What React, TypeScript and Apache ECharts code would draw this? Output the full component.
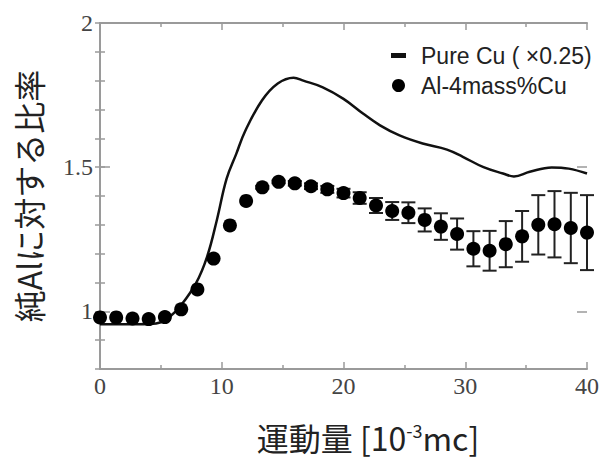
import React, { useEffect, useRef } from 'react';
import * as echarts from 'echarts';

const xTickLabels = [0, 10, 20, 30, 40];
const yTickLabels = [1, 1.5, 2];
const legendNames = ['Pure Cu ( ×0.25)', 'Al-4mass%Cu'];
const xTitleMain = '運動量 [10';
const xTitleSup = '-3';
const xTitleEnd = 'mc]';
const yTitle = '純Alに対する比率';

const pureCuX = [0, 2, 4, 5, 5.8, 6.6, 7.9, 8.8, 9.6, 10.4, 11.2, 11.9, 13.3, 14.6, 15.9, 16.7, 18.3, 20, 21.6, 23, 24.6, 26.5, 28.5, 29.8, 31.5, 33.1, 34, 35.3, 37.1, 38.5, 40];
const pureCuY = [0.955, 0.955, 0.956, 0.962, 0.984, 1.018, 1.099, 1.19, 1.317, 1.46, 1.547, 1.623, 1.731, 1.79, 1.81, 1.8, 1.777, 1.737, 1.686, 1.645, 1.61, 1.582, 1.561, 1.536, 1.5, 1.478, 1.468, 1.484, 1.499, 1.495, 1.478];

const alX = [0, 1.33, 2.67, 4, 5.33, 6.67, 8, 9.33, 10.67, 12, 13.33, 14.67, 16, 17.33, 18.67, 20, 21.33, 22.67, 24, 25.33, 26.67, 28, 29.33, 30.67, 32, 33.33, 34.67, 36, 37.33, 38.67, 40];
const alY = [0.979, 0.979, 0.975, 0.973, 0.98, 1.007, 1.076, 1.183, 1.298, 1.383, 1.43, 1.449, 1.444, 1.434, 1.423, 1.41, 1.393, 1.367, 1.348, 1.342, 1.317, 1.294, 1.268, 1.217, 1.21, 1.233, 1.26, 1.3, 1.302, 1.289, 1.273];
const alErr = [0, 0, 0, 0, 0, 0, 0, 0, 0, 0, 0.005, 0.005, 0.008, 0.01, 0.012, 0.015, 0.02, 0.026, 0.031, 0.036, 0.04, 0.046, 0.054, 0.061, 0.069, 0.08, 0.088, 0.103, 0.115, 0.122, 0.13];

const AXIS_COLOR = '#9a9a9a';
const LABEL_COLOR = '#444';

export default function App() {
  const ref = useRef<HTMLDivElement>(null);
  useEffect(() => {
    if (!ref.current) return;
    const chart = echarts.init(ref.current, undefined, { renderer: 'svg' });

    const near = (a: number, b: number) => Math.abs(a - b) < 1e-6;
    const baseX = {
      type: 'value',
      min: xTickLabels[0],
      max: xTickLabels[xTickLabels.length - 1],
      interval: 10,
      splitLine: { show: false },
      axisLine: { show: true, lineStyle: { color: AXIS_COLOR, width: 2 } },
      axisTick: { show: true, inside: true, length: 7, lineStyle: { color: AXIS_COLOR, width: 1.5 } },
      minorTick: { show: true, splitNumber: 2, length: 4, lineStyle: { color: AXIS_COLOR, width: 1.5 } },
    };
    const baseY = {
      type: 'value',
      min: 0.8,
      max: 2,
      interval: 0.1,
      splitLine: { show: false },
      axisLine: { show: true, lineStyle: { color: AXIS_COLOR, width: 2 } },
      axisTick: { show: true, inside: true, length: 5, lineStyle: { color: AXIS_COLOR, width: 1.5 } },
    };
    const majorY = {
      type: 'value',
      min: 0.8,
      max: 2,
      splitLine: { show: false },
      axisLine: { show: false },
      axisLabel: { show: false },
      axisTick: { show: true, inside: true, length: 10, customValues: yTickLabels, lineStyle: { color: AXIS_COLOR, width: 1.5 } },
    };

    const errData = alX
      .map((x, i) => [x, alY[i] - alErr[i], alY[i] + alErr[i], alErr[i]])
      .filter((d) => d[3] > 0);

    chart.setOption({
      animation: false,
      backgroundColor: '#fff',
      grid: { left: 100, right: 22, top: 23, bottom: 90, containLabel: false, outerBoundsMode: 'none' },
      legend: {
        orient: 'vertical',
        left: 386,
        top: 39,
        itemWidth: 15,
        itemHeight: 13,
        itemGap: 7,
        textStyle: { fontSize: 23, fontFamily: 'Liberation Sans', color: '#222', padding: [0, 0, 0, 10] },
        data: [
          { name: legendNames[0], icon: 'path://M0,0H30V10H0Z' },
          { name: legendNames[1], icon: 'circle' },
        ],
      },
      xAxis: [
        {
          ...baseX,
          position: 'bottom',
          axisLabel: { fontFamily: 'Liberation Serif', fontSize: 24, color: LABEL_COLOR, margin: 5 },
        },
        { ...baseX, position: 'top', axisLabel: { show: false } },
      ],
      yAxis: [
        {
          ...baseY,
          position: 'left',
          axisLabel: {
            fontFamily: 'Liberation Serif',
            fontSize: 24,
            color: LABEL_COLOR,
            margin: 7,
            formatter: (v: number) => {
              const hit = yTickLabels.find((t) => near(t, v));
              return hit === undefined ? '' : String(hit);
            },
          },
        },
        { ...baseY, position: 'right', axisLabel: { show: false } },
        { ...majorY, position: 'left' },
        { ...majorY, position: 'right' },
      ],
      graphic: [
        {
          type: 'text',
          x: 28,
          y: 196,
          rotation: Math.PI / 2,
          style: {
            text: yTitle,
            fontSize: 32,
            fontFamily: 'Noto Sans CJK JP',
            fill: '#222',
            align: 'center',
            verticalAlign: 'middle',
            textAlign: 'center',
            textVerticalAlign: 'middle',
          },
        },
        {
          type: 'text',
          x: 368,
          y: 437,
          style: {
            text: `{m|${xTitleMain}}{s|${xTitleSup}}{m|${xTitleEnd}}`,
            fontSize: 32,
            fontFamily: 'Noto Sans CJK JP',
            fill: '#222',
            align: 'center',
            verticalAlign: 'middle',
            textAlign: 'center',
            textVerticalAlign: 'middle',
            rich: {
              m: { fontSize: 32, fontFamily: 'Noto Sans CJK JP', fill: '#222', color: '#222', verticalAlign: 'bottom' },
              s: { fontSize: 18, fontFamily: 'Noto Sans CJK JP', fill: '#222', color: '#222', verticalAlign: 'top' },
            },
          },
        },
      ],
      series: [
        {
          name: legendNames[0],
          type: 'line',
          xAxisIndex: 0,
          yAxisIndex: 0,
          data: pureCuX.map((x, i) => [x, pureCuY[i]]),
          smooth: 0.4,
          showSymbol: false,
          symbol: 'none',
          lineStyle: { color: '#111', width: 2.5 },
          itemStyle: { color: '#111' },
          z: 3,
        },
        {
          name: 'err',
          type: 'custom',
          xAxisIndex: 0,
          yAxisIndex: 0,
          clip: false,
          data: errData,
          encode: { x: 0, y: [1, 2] },
          renderItem: (params: any, api: any) => {
            const x = api.value(0);
            const lo = api.coord([x, api.value(1)]);
            const hi = api.coord([x, api.value(2)]);
            const w = 7;
            const st = { stroke: '#222', lineWidth: 2 };
            return {
              type: 'group',
              children: [
                { type: 'line', shape: { x1: hi[0], y1: hi[1], x2: lo[0], y2: lo[1] }, style: st },
                { type: 'line', shape: { x1: hi[0] - w, y1: hi[1], x2: hi[0] + w, y2: hi[1] }, style: st },
                { type: 'line', shape: { x1: lo[0] - w, y1: lo[1], x2: lo[0] + w, y2: lo[1] }, style: st },
              ],
            };
          },
          z: 4,
        },
        {
          name: legendNames[1],
          type: 'scatter',
          xAxisIndex: 0,
          yAxisIndex: 0,
          clip: false,
          data: alX.map((x, i) => [x, alY[i]]),
          symbol: 'circle',
          symbolSize: 14,
          itemStyle: { color: '#000', opacity: 1 },
          z: 5,
        },
      ],
    });
    return () => chart.dispose();
  }, []);
  return <div ref={ref} style={{ position: 'absolute', left: 0, top: 0, width: 609, height: 459 }} />;
}
